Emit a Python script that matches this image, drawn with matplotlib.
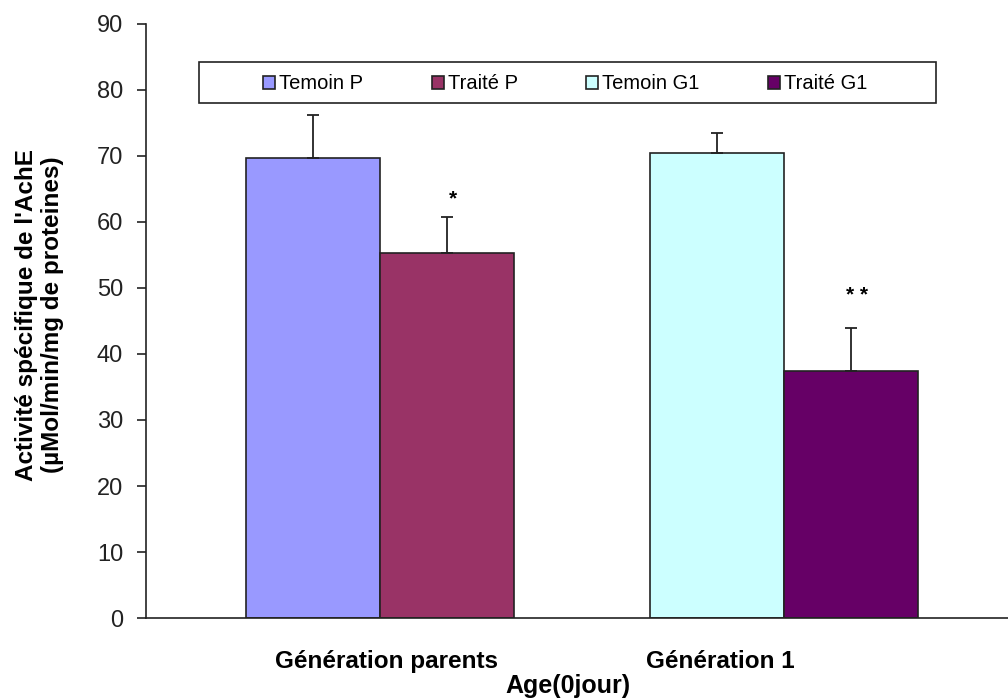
import matplotlib
matplotlib.use("Agg")
import matplotlib.pyplot as plt
from matplotlib.patches import Rectangle
import numpy as np

plt.rcParams['font.family'] = ['Liberation Sans', 'DejaVu Sans']

# data
groups = ["Génération parents", "Génération 1"]
series = ["Temoin P", "Traité P", "Temoin G1", "Traité G1"]
means = [69.7, 55.3, 70.5, 37.4]
errs = [6.5, 5.5, 3.0, 6.5]
colors = ["#9999FF", "#993366", "#CCFFFF", "#660066"]
group_of = [0, 0, 1, 1]
side = [-1, 1, -1, 1]
signif = ["", "*", "", "* *"]
signif_y = [0, 63.5, 0, 48.8]

fig = plt.figure(figsize=(10.08, 7.0), dpi=100)
ax = fig.add_axes([0.1448, 0.117, 0.8552, 0.849])

w = 0.332
for i, name in enumerate(series):
    x = group_of[i] + side[i] * w / 2
    ax.bar(x, means[i], width=w, color=colors[i], edgecolor="#222222",
           linewidth=1.2, label=name, zorder=2)
    ax.errorbar(x, means[i], yerr=[[0], [errs[i]]], fmt="none",
                ecolor="#222222", elinewidth=1.3, capsize=4.5, capthick=1.3, zorder=3)
    if signif[i]:
        ax.text(x + 0.015, signif_y[i], signif[i], ha="center", va="center",
                fontsize=15, fontweight="bold")

ax.set_xlim(-0.579, 1.554)
ax.set_ylim(0, 90)
ax.set_yticks(np.arange(0, 91, 10))
ax.tick_params(axis="y", direction="out", length=6.5, width=1.2, labelsize=17,
               colors="#222222", pad=10)

# category labels are not centred on the bar groups in the reference
label_pos = [0.017, 0.842]
ax.set_xticks(label_pos)
ax.set_xticklabels(groups, fontsize=17.5, fontweight="bold")
ax.tick_params(axis="x", length=0, pad=23)

for s in ["top", "right"]:
    ax.spines[s].set_visible(False)
for s in ["left", "bottom"]:
    ax.spines[s].set_color("#222222")
    ax.spines[s].set_linewidth(1.2)

fig.text(0.039, 0.55, "Activité spécifique de l'AchE\n(µMol/min/mg de proteines)",
         rotation=90, ha="center", va="center", fontsize=17.5,
         fontweight="bold", linespacing=1.2)
fig.text(0.563, 0.02, "Age(0jour)", ha="center", va="center",
         fontsize=18, fontweight="bold")

# legend box drawn separately so the entries can sit centred inside it
ax.add_patch(Rectangle((0.0615, 0.867), 0.855, 0.069, transform=ax.transAxes,
                       facecolor="white", edgecolor="#222222", linewidth=1.2,
                       zorder=4))
leg = ax.legend(loc="center left", bbox_to_anchor=(0.1357, 0.899), ncol=4,
                frameon=False, fontsize=14.5, handlelength=0.6,
                handleheight=0.6, handletextpad=0.2, columnspacing=3.4,
                borderpad=0, borderaxespad=0)
leg.set_zorder(5)

fig.savefig("out.png", dpi=100)
